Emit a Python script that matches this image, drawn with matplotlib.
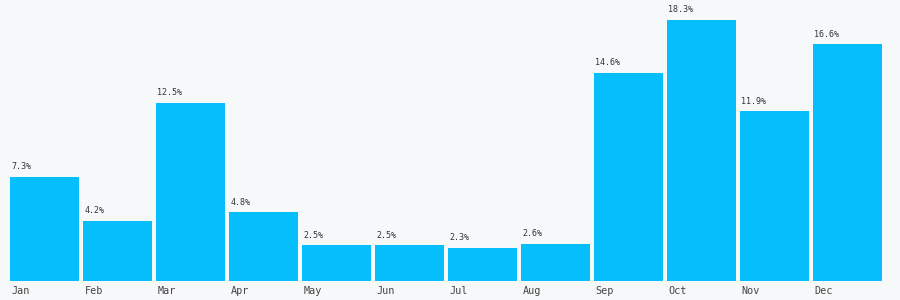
import matplotlib
matplotlib.use("Agg")
import matplotlib.pyplot as plt
import matplotlib.transforms as mtransforms

months = ["Jan", "Feb", "Mar", "Apr", "May", "Jun", "Jul", "Aug", "Sep", "Oct", "Nov", "Dec"]
values = [7.3, 4.2, 12.5, 4.8, 2.5, 2.5, 2.3, 2.6, 14.6, 18.3, 11.9, 16.6]

bg = "#f7f8fa"
bar_color = "#05befb"
font = ["DejaVu Sans Mono", "Liberation Mono"]

fig = plt.figure(figsize=(9, 3), dpi=100, facecolor=bg)
# axes placed in pixels: left 10, bottom 19.3, width 872, height 280
ax = fig.add_axes([10 / 900, 19.3 / 300, 872 / 900, 280 / 300])
ax.set_facecolor(bg)

bw = 69 / 73
xs = list(range(len(months)))
ax.bar(xs, values, width=bw, align="edge", color=bar_color, linewidth=0)

ax.set_xlim(0, len(months) - (1 - bw))
ax.set_ylim(0, 280 / 14.25)

# value labels
for x, v in zip(xs, values):
    ax.annotate(f"{v:.1f}%", (x, v), xytext=(1, 4), textcoords="offset points",
                ha="left", va="bottom", fontsize=6, family=font, color="#333333")

# month labels under the bars
trans = mtransforms.blended_transform_factory(ax.transData, ax.transAxes)
for x, m in zip(xs, months):
    ax.annotate(m, (x, 0), xycoords=trans, xytext=(1, -4), textcoords="offset points",
                ha="left", va="top", fontsize=7.3, family=font, color="#444444")

for s in ax.spines.values():
    s.set_visible(False)
ax.set_xticks([])
ax.set_yticks([])

fig.savefig("out.png", dpi=100, facecolor=bg)
